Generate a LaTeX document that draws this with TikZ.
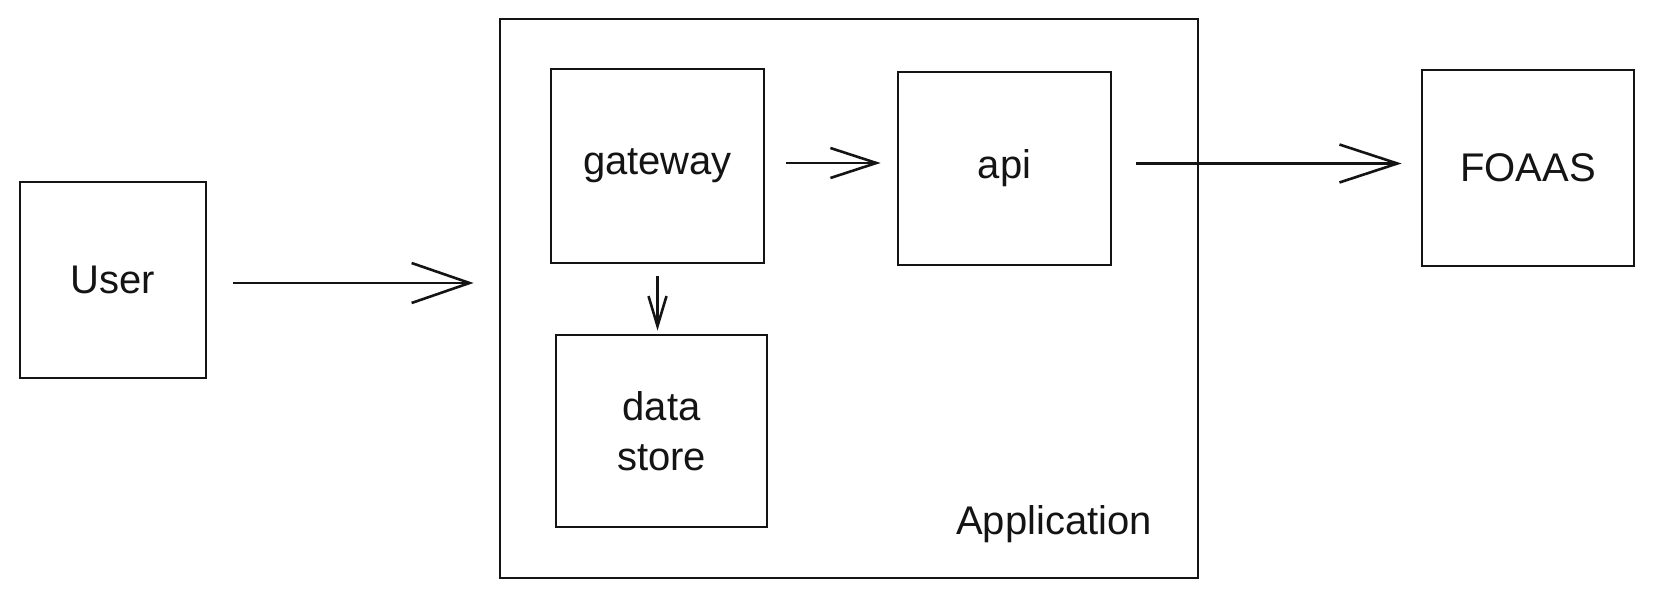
\documentclass[tikz,border=0pt]{standalone}
\usepackage{fontspec}
\setmainfont{Liberation Sans}
\usepackage{tikz}
\usetikzlibrary{arrows.meta,positioning}
\usepackage{xcolor}
\definecolor{inkblack}{RGB}{20,20,20}
\tikzstyle{block} = [rectangle, draw=inkblack, line width=1.4pt, inner sep=0pt]
\tikzstyle{label} = [font=\fontsize{20}{25}\selectfont, text=inkblack, align=center]
\tikzstyle{arrow} = [line width=1.3pt, color=inkblack]

\begin{document}
\begin{tikzpicture}[x=0.5pt, y=-0.5pt]
    \useasboundingbox (0,0) rectangle (1654,598);

    % Application frame
    \node[block, minimum width=349pt, minimum height=279.5pt] (app) at (849, 298.5) {};
    \node[label] (applabel) at (1054, 524) {Application};

    % User
    \node[block, label, minimum width=93pt, minimum height=98pt] (user) at (113, 280) {User};

    % Inside the application
    \node[block, label, minimum width=106.5pt, minimum height=97pt] (gateway) at (657.5, 166) {gateway};
    \node[block, label, minimum width=106.5pt, minimum height=96.5pt] (api) at (1004.5, 168.5) {api};
    \node[block, label, minimum width=105.5pt, minimum height=96pt] (store) at (661.5, 431) {data\\store};

    % External service
    \node[block, label, minimum width=106pt, minimum height=98pt] (foaas) at (1528, 168) {FOAAS};

    % Arrows
    \draw[arrow, -{Straight Barb[length=29pt, width=20pt]}, shorten <=13pt, shorten >=12.5pt]
        ([yshift=-1.5pt]user.east) -- ([yshift=-1.5pt]user.east -| app.west);
    \draw[arrow, -{Straight Barb[length=23pt, width=15pt]}, shorten <=10.5pt, shorten >=8pt]
        ([yshift=1.5pt]gateway.east) -- ([yshift=1.5pt]gateway.east -| api.west);
    \draw[arrow, -{Straight Barb[length=15pt, width=9pt]}, shorten <=6pt, shorten >=1.5pt]
        (gateway.south) -- (gateway.south |- store.north);
    \draw[arrow, -{Straight Barb[length=29pt, width=19pt]}, shorten <=12pt, shorten >=9.5pt]
        ([yshift=2.5pt]api.east) -- ([yshift=2.5pt]api.east -| foaas.west);
\end{tikzpicture}
\end{document}
